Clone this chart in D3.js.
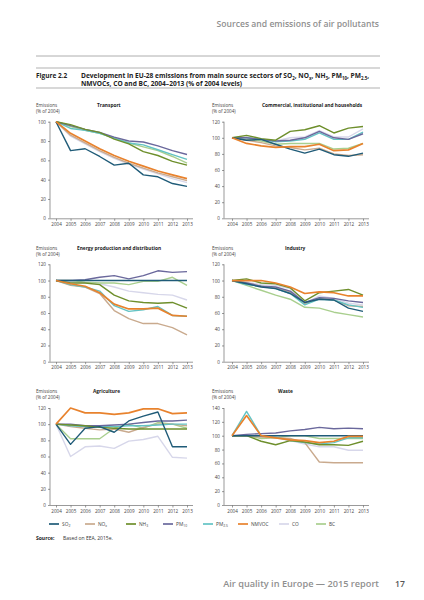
<!DOCTYPE html>
<html>
<head>
<meta charset="utf-8">
<script src="https://cdn.jsdelivr.net/npm/d3@7"></script>
<style>
body { margin:0; background:#fff; }
svg { display:block; }
text { font-family: "Open Sans", "Liberation Sans", sans-serif; }
</style>
</head>
<body>
<svg width="424" height="600"></svg>
<script>
var years = [2004, 2005, 2006, 2007, 2008, 2009, 2010, 2011, 2012, 2013];

var pollutants = ["SO2", "NOx", "NH3", "PM10", "PM25", "NMVOC", "CO", "BC"];
var legendMain = ["SO", "NO", "NH", "PM", "PM", "NMVOC", "CO", "BC"];
var legendSub = ["2", "x", "3", "10", "2.5", "", "", ""];
var colors = ["#1f5b78", "#c9aa8e", "#6e8f2c", "#6a689c", "#63c3c4", "#e8822d", "#d7d7ea", "#a9cf8e"];

// values in % of 2004 levels
var transport = {
  SO2:   [100, 70, 72, 64, 55, 57, 45, 43, 36, 33],
  NOx:   [100, 86, 78, 70, 63, 57, 52, 47, 43, 39],
  NH3:   [100, 97, 92, 89, 82, 77, 69, 65, 59, 55],
  PM10:  [100, 96, 92, 89, 84, 80, 79, 75, 70, 66],
  PM25:  [100, 93, 91, 88, 83, 78, 76, 71, 66, 61],
  NMVOC: [100, 88, 80, 72, 65, 59, 54, 49, 45, 41],
  CO:    [100, 85, 77, 69, 62, 56, 51, 46, 41, 37],
  BC:    [100, 95, 91, 88, 83, 78, 74, 70, 64, 57]
};
var commercial = {
  SO2:   [100, 97, 98, 92, 86, 81, 86, 79, 77, 81],
  NOx:   [100, 97, 94, 90, 88, 85, 87, 80, 78, 79],
  NH3:   [100, 103, 99, 97, 108, 110, 115, 106, 112, 114],
  PM10:  [100, 100, 98, 96, 97, 100, 108, 100, 98, 105],
  PM25:  [100, 100, 98, 95, 96, 98, 106, 98, 98, 107],
  NMVOC: [100, 93, 90, 88, 89, 89, 92, 84, 85, 93],
  CO:    [100, 101, 98, 96, 100, 101, 109, 101, 101, 111],
  BC:    [100, 98, 96, 92, 93, 93, 93, 86, 87, 93]
};
var energy = {
  SO2:   [100, 100, 100, 100, 100, 100, 100, 100, 100, 100],
  NOx:   [100, 94, 92, 84, 63, 53, 47, 47, 42, 33],
  NH3:   [100, 97, 97, 95, 82, 75, 73, 72, 73, 66],
  PM10:  [100, 100, 101, 104, 106, 102, 106, 112, 110, 111],
  PM25:  [100, 95, 92, 87, 69, 62, 64, 68, 57, 56],
  NMVOC: [100, 96, 93, 85, 71, 65, 65, 66, 57, 56],
  CO:    [100, 98, 97, 96, 92, 87, 85, 83, 82, 76],
  BC:    [100, 100, 98, 97, 97, 95, 99, 99, 104, 94]
};
var industry = {
  SO2:   [100, 96, 92, 90, 84, 73, 77, 76, 66, 62],
  NOx:   [100, 97, 93, 91, 86, 71, 78, 76, 69, 68],
  NH3:   [100, 102, 97, 96, 91, 75, 85, 87, 89, 82],
  PM10:  [100, 97, 93, 92, 87, 73, 79, 78, 75, 73],
  PM25:  [100, 95, 93, 90, 84, 70, 77, 76, 70, 67],
  NMVOC: [100, 100, 100, 97, 92, 84, 86, 85, 81, 81],
  CO:    [100, 98, 95, 94, 90, 72, 81, 78, 72, 70],
  BC:    [100, 94, 88, 82, 77, 67, 66, 61, 58, 55]
};
var agriculture = {
  SO2:   [100, 75, 95, 97, 90, 104, 110, 115, 72, 72],
  NOx:   [100, 97, 95, 93, 94, 90, 96, 100, 100, 98],
  NH3:   [100, 99, 98, 96, 95, 94, 94, 94, 94, 94],
  PM10:  [100, 100, 98, 98, 99, 100, 102, 104, 104, 105],
  PM25:  [100, 98, 97, 97, 97, 98, 98, 99, 100, 100],
  NMVOC: [100, 120, 114, 114, 112, 114, 119, 119, 113, 114],
  CO:    [100, 60, 72, 73, 70, 79, 81, 85, 59, 58],
  BC:    [100, 82, 82, 82, 95, 100, 95, 102, 100, 95]
};
var waste = {
  SO2:   [100, 100, 100, 100, 100, 100, 100, 100, 100, 100],
  NOx:   [100, 100, 98, 97, 96, 90, 62, 61, 61, 61],
  NH3:   [100, 100, 92, 87, 93, 91, 87, 87, 86, 92],
  PM10:  [100, 102, 103, 104, 107, 109, 112, 110, 111, 110],
  PM25:  [100, 135, 100, 98, 93, 90, 88, 90, 97, 97],
  NMVOC: [100, 129, 100, 97, 94, 93, 90, 92, 99, 99],
  CO:    [100, 100, 99, 97, 93, 88, 84, 84, 79, 79],
  BC:    [100, 100, 96, 97, 100, 100, 96, 96, 96, 96]
};

var panelTitles = ["Transport", "Commercial, institutional and households",
  "Energy production and distribution", "Industry", "Agriculture", "Waste"];
var panelData = [transport, commercial, energy, industry, agriculture, waste];
var panelMax = [100, 120, 120, 120, 120, 140];

var svg = d3.select("svg");

// page header
svg.append("text").attr("x", 379).attr("y", 27).attr("text-anchor", "end")
  .attr("font-size", 8.6).attr("fill", "#8f8f8f").attr("font-weight", 600)
  .text("Sources and emissions of air pollutants");

[56, 68, 88].forEach(function(y, i) {
  svg.append("line").attr("x1", 36).attr("x2", 380).attr("y1", y).attr("y2", y)
    .attr("stroke", i == 0 ? "#9a9a9a" : "#a8a8a8").attr("stroke-width", i == 0 ? 0.8 : 0.9);
});

svg.append("text").attr("x", 36).attr("y", 78).attr("font-size", 6.5)
  .attr("font-weight", 700).attr("fill", "#222").text("Figure 2.2");

var t1 = svg.append("text").attr("x", 81).attr("y", 78).attr("font-size", 6.6)
  .attr("font-weight", 700).attr("fill", "#222");
var titleParts = [["Development in EU-28 emissions from main source sectors of SO", ""], ["2", "s"],
  [", NO", ""], ["x", "s"], [", NH", ""], ["3", "s"], [", PM", ""], ["10", "s"], [", PM", ""], ["2.5", "s"], [",", ""]];
titleParts.forEach(function(p, i) {
  var ts = t1.append("tspan").text(p[0]);
  if (p[1] == "s") ts.attr("font-size", 4.4).attr("dy", 1.5);
  else if (i > 0) ts.attr("dy", -1.5);
});
svg.append("text").attr("x", 81).attr("y", 86).attr("font-size", 6.6)
  .attr("font-weight", 700).attr("fill", "#222")
  .text("NMVOCs, CO and BC, 2004\u20132013 (% of 2004 levels)");

// panel layout
var cols = [{axis: 50, x0: 56, x1: 187, end: 193, em: 36},
            {axis: 224, x0: 232, x1: 363, end: 369, em: 212}];
var rows = [{top: 121.7, bottom: 218.3, em: 107},
            {top: 264.3, bottom: 361.7, em: 250},
            {top: 408, bottom: 505, em: 393}];
var titleX = [97, 262, 77, 285, 93, 278];

var line = d3.line();

panelData.forEach(function(data, i) {
  var c = cols[i % 2], r = rows[Math.floor(i / 2)];
  var x = d3.scaleLinear().domain([2004, 2013]).range([c.x0, c.x1]);
  var y = d3.scaleLinear().domain([0, panelMax[i]]).range([r.bottom, r.top]);
  var g = svg.append("g");

  g.append("text").attr("x", c.em).attr("y", r.em).attr("font-size", 4.6)
    .attr("fill", "#444").text("Emissions");
  g.append("text").attr("x", c.em).attr("y", r.em + 5.5).attr("font-size", 4.6)
    .attr("fill", "#444").text("(% of 2004)");
  g.append("text").attr("x", titleX[i]).attr("y", r.em).attr("font-size", 4.8)
    .attr("font-weight", 700).attr("fill", "#222").text(panelTitles[i]);

  var yAxis = g.append("g").attr("transform", "translate(" + c.axis + ",0)")
    .call(d3.axisLeft(y).tickValues(d3.range(0, panelMax[i] + 1, 20)).tickSize(2).tickPadding(2));
  yAxis.select(".domain").attr("stroke", "#555").attr("stroke-width", 0.6).attr("d", "M0," + r.top + "V" + r.bottom);
  yAxis.selectAll(".tick line").attr("stroke", "#555").attr("stroke-width", 0.6);
  yAxis.selectAll("text").attr("font-size", 4.6).attr("fill", "#444")
    .attr("font-family", "Liberation Sans, sans-serif");

  var xAxis = g.append("g").attr("transform", "translate(0," + (r.bottom + 0.5) + ")")
    .call(d3.axisBottom(x).tickValues(years).tickFormat(d3.format("d")).tickSize(2).tickPadding(2));
  xAxis.select(".domain").attr("stroke", "#555").attr("stroke-width", 0.6).attr("d", "M" + c.axis + ",0H" + c.end);
  xAxis.selectAll(".tick line").attr("stroke", "#555").attr("stroke-width", 0.6);
  xAxis.selectAll("text").attr("font-size", 4.6).attr("fill", "#444")
    .attr("font-family", "Liberation Sans, sans-serif");

  // draw order so the strong colours sit on top
  [6, 7, 1, 4, 3, 2, 0, 5].forEach(function(k) {
    var vals = data[pollutants[k]];
    g.append("path")
      .attr("d", line(vals.map(function(v, j) { return [x(years[j]), y(v)]; })))
      .attr("fill", "none").attr("stroke", colors[k])
      .attr("stroke-width", k == 5 ? 1.7 : 1.4)
      .attr("stroke-linejoin", "round");
  });
});

// legend
var legX = [49, 85, 126, 163, 203, 238, 279, 316];
pollutants.forEach(function(p, k) {
  svg.append("line").attr("x1", legX[k]).attr("x2", legX[k] + 10)
    .attr("y1", 524).attr("y2", 524).attr("stroke", colors[k]).attr("stroke-width", 1.7);
  var t = svg.append("text").attr("x", legX[k] + 13).attr("y", 525.8)
    .attr("font-size", 4.8).attr("fill", "#444");
  t.append("tspan").text(legendMain[k]);
  if (legendSub[k]) t.append("tspan").attr("font-size", 3.4).attr("dy", 1.2).text(legendSub[k]);
});

svg.append("text").attr("x", 36).attr("y", 540).attr("font-size", 5)
  .attr("font-weight", 700).attr("fill", "#222").text("Source:");
svg.append("text").attr("x", 63).attr("y", 540).attr("font-size", 5)
  .attr("fill", "#333").text("Based on EEA, 2015e.");

// footer
svg.append("text").attr("x", 379).attr("y", 587).attr("text-anchor", "end")
  .attr("font-size", 9.2).attr("font-weight", 600).attr("fill", "#8f8f8f")
  .text("Air quality in Europe \u2014 2015 report");
svg.append("text").attr("x", 395).attr("y", 587)
  .attr("font-size", 8.6).attr("font-weight", 600).attr("fill", "#555").text("17");
</script>
</body>
</html>
